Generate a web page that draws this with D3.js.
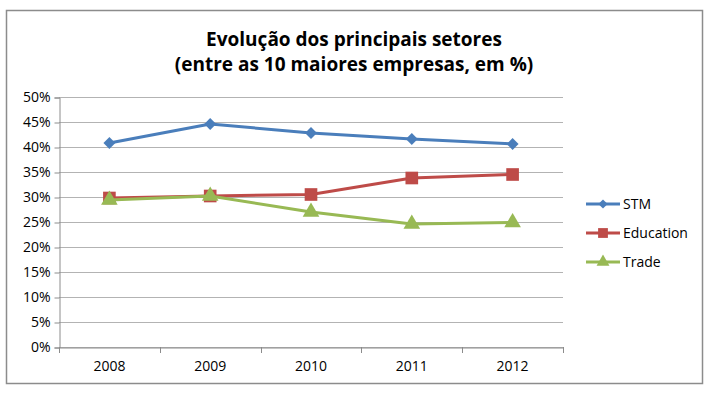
<!DOCTYPE html>
<html><head><meta charset="utf-8">
<script src="https://cdn.jsdelivr.net/npm/d3@7"></script>
<style>body{margin:0;background:#fff}svg{display:block}text{font-family:"Open Sans","Liberation Sans",sans-serif}</style>
</head><body>
<svg id="c" width="709" height="395"></svg>
<script>
const categories = ["2008","2009","2010","2011","2012"];
const stm = [40.8, 44.6, 42.8, 41.6, 40.6];
const education = [29.8, 30.2, 30.5, 33.8, 34.5];
const trade = [29.4, 30.2, 27.0, 24.6, 24.9];
const yTicks = [0,5,10,15,20,25,30,35,40,45,50];
const seriesNames = ["STM","Education","Trade"];

const svg = d3.select("#c");
svg.append("rect").attr("x",6.5).attr("y",10.5).attr("width",696).attr("height",373)
  .attr("fill","#fff").attr("stroke","#8c8c8c").attr("stroke-width",1.5);

const title = svg.append("text").attr("text-anchor","middle").attr("font-weight","bold")
  .attr("font-size",19).attr("fill","#000");
title.append("tspan").attr("x",354).attr("y",46).text("Evolução dos principais setores");
title.append("tspan").attr("x",354).attr("y",71).text("(entre as 10 maiores empresas, em %)");

const x = d3.scaleBand().domain(categories).range([59,563]);
const y = d3.scaleLinear().domain([0,50]).range([347,97]);

const g = svg.append("g");
g.selectAll("line.grid").data(yTicks).join("line").attr("class","grid")
  .attr("x1",59).attr("x2",563).attr("y1",d=>y(d)+0.5).attr("y2",d=>y(d)+0.5)
  .attr("stroke","#b3b3b3").attr("stroke-width",1);

const yAxis = g.append("g").attr("transform","translate(59.5,0.5)")
  .call(d3.axisLeft(y).tickValues(yTicks).tickFormat(d=>d+"%").tickSize(5).tickPadding(4));
yAxis.attr("font-size",null).attr("font-family",null);
yAxis.select(".domain").attr("stroke","#8c8c8c");
yAxis.selectAll(".tick line").attr("stroke","#8c8c8c");
yAxis.selectAll("text").style("font-size","14px").attr("fill","#000");

const xAxis = g.append("g").attr("transform","translate(0,347.5)")
  .call(d3.axisBottom(x).tickSize(0).tickPadding(14));
xAxis.attr("font-size",null).attr("font-family",null);
xAxis.select(".domain").attr("stroke","#8c8c8c");
xAxis.selectAll("text").style("font-size","14px").attr("fill","#000");
const bounds = categories.map(c=>x(c)).concat([x.range()[1]]);
g.selectAll("line.xt").data(bounds).join("line").attr("class","xt")
  .attr("x1",d=>Math.round(d)+0.5).attr("x2",d=>Math.round(d)+0.5).attr("y1",347).attr("y2",353)
  .attr("stroke","#8c8c8c");

const series = [
  {name:seriesNames[0], vals:stm, color:"#4a7ebb", shape:d3.symbolDiamond2, size:90},
  {name:seriesNames[1], vals:education, color:"#be4b48", shape:d3.symbolSquare, size:160},
  {name:seriesNames[2], vals:trade, color:"#98b954", shape:d3.symbolTriangle, size:120}
];
const cx = c => x(c) + x.bandwidth()/2;
const line = d3.line().x((d,i)=>cx(categories[i])).y(d=>y(d));

series.forEach(s=>{
  g.append("path").datum(s.vals).attr("d",line).attr("fill","none")
    .attr("stroke",s.color).attr("stroke-width",3).attr("stroke-linejoin","round");
  g.selectAll(null).data(s.vals).join("path")
    .attr("transform",(d,i)=>`translate(${cx(categories[i])},${y(d)})`)
    .attr("d",d3.symbol().type(s.shape).size(s.size)).attr("fill",s.color);
});

const leg = svg.append("g");
series.forEach((s,i)=>{
  const yy = 204 + i*29;
  leg.append("line").attr("x1",586).attr("x2",620).attr("y1",yy).attr("y2",yy)
    .attr("stroke",s.color).attr("stroke-width",3);
  leg.append("path").attr("transform",`translate(603,${yy})`)
    .attr("d",d3.symbol().type(s.shape).size(s.size*0.6)).attr("fill",s.color);
  leg.append("text").attr("x",623).attr("y",yy+5).attr("font-size",14).attr("fill","#000").text(s.name);
});
</script>
</body></html>
